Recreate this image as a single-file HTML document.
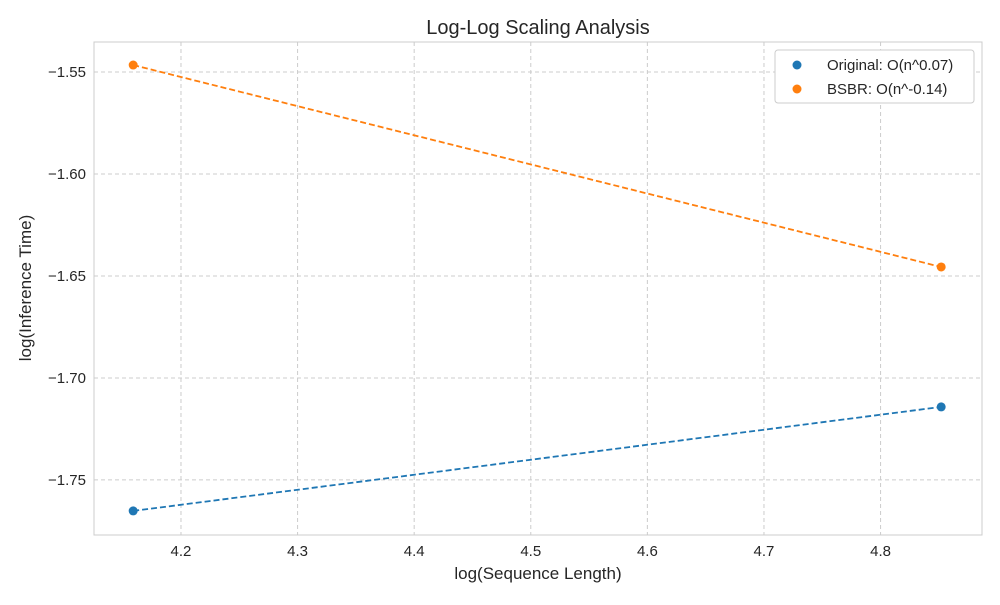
<!DOCTYPE html>
<html><head><meta charset="utf-8"><style>
body{margin:0;background:#fff;font-family:"Liberation Sans","DejaVu Sans",sans-serif}
</style></head><body>
<svg width="1000" height="600" xmlns="http://www.w3.org/2000/svg" font-family="Liberation Sans, DejaVu Sans, sans-serif">
<rect x="0" y="0" width="1000" height="600" fill="#fff"/>
<g id="grid"></g>
<rect x="94" y="42" width="888" height="493" fill="none" stroke="#ccc" stroke-width="1"/>
<g id="ticks" fill="#262626" font-size="15"></g>
<g id="series"></g>
<text x="538" y="34" text-anchor="middle" font-size="20" fill="#262626">Log-Log Scaling Analysis</text>
<text x="538" y="579" text-anchor="middle" font-size="17" fill="#262626">log(Sequence Length)</text>
<text transform="translate(31,288) rotate(-90)" text-anchor="middle" font-size="17" fill="#262626">log(Inference Time)</text>
<g>
<rect x="775" y="50" width="199" height="53" rx="3" fill="#fff" stroke="#ccc"/>
<circle cx="797" cy="65" r="4.5" fill="#1f77b4"/>
<text x="827" y="70" font-size="15" fill="#262626">Original: O(n^0.07)</text>
<circle cx="797" cy="89" r="4.5" fill="#ff7f0e"/>
<text x="827" y="94" font-size="15" fill="#262626">BSBR: O(n^-0.14)</text>
</g>
</svg>
<script>
const xValues=[4.159,4.852];
const originalValues=[-1.7652,-1.7142];
const bsbrValues=[-1.5466,-1.6456];
const xTicks=[4.2,4.3,4.4,4.5,4.6,4.7,4.8];
const yTicks=[-1.55,-1.60,-1.65,-1.70,-1.75];
const L=94,R=982,T=42,B=535,x0=4.1254,x1=4.887,y0=-1.777,y1=-1.5353;
const sx=v=>L+(v-x0)/(x1-x0)*(R-L);
const sy=v=>B-(v-y0)/(y1-y0)*(B-T);
const NS="http://www.w3.org/2000/svg";
const g=document.getElementById('grid'),tk=document.getElementById('ticks'),s=document.getElementById('series');
function mk(tag,a,p){const e=document.createElementNS(NS,tag);for(const k in a)e.setAttribute(k,a[k]);p.appendChild(e);return e;}
xTicks.forEach(t=>{const X=sx(t);
const l=mk('line',{x1:X,x2:X,y1:T,y2:B,stroke:'#ccc','stroke-dasharray':'4,3'},g);


const tx=mk('text',{x:X,y:B+21,'text-anchor':'middle'},tk);tx.textContent=t.toFixed(1);

});
yTicks.forEach(t=>{const Y=sy(t);
const l=mk('line',{x1:L,x2:R,y1:Y,y2:Y,stroke:'#ccc','stroke-dasharray':'4,3'},g);


const tx=mk('text',{x:L-8,y:Y+5,'text-anchor':'end'},tk);tx.textContent='\u2212'+Math.abs(t).toFixed(2);

});
[[originalValues,'#1f77b4','original'],[bsbrValues,'#ff7f0e','bsbr']].forEach(([vals,c,n])=>{
const ln=mk('polyline',{points:vals.map((v,i)=>sx(xValues[i])+','+sy(v)).join(' '),fill:'none',stroke:c,'stroke-width':1.8,'stroke-dasharray':'6,3'},s);


vals.forEach((v,i)=>{const p=mk('circle',{cx:sx(xValues[i]),cy:sy(v),r:4.5,fill:c},s);

});});
</script>
</body></html>
